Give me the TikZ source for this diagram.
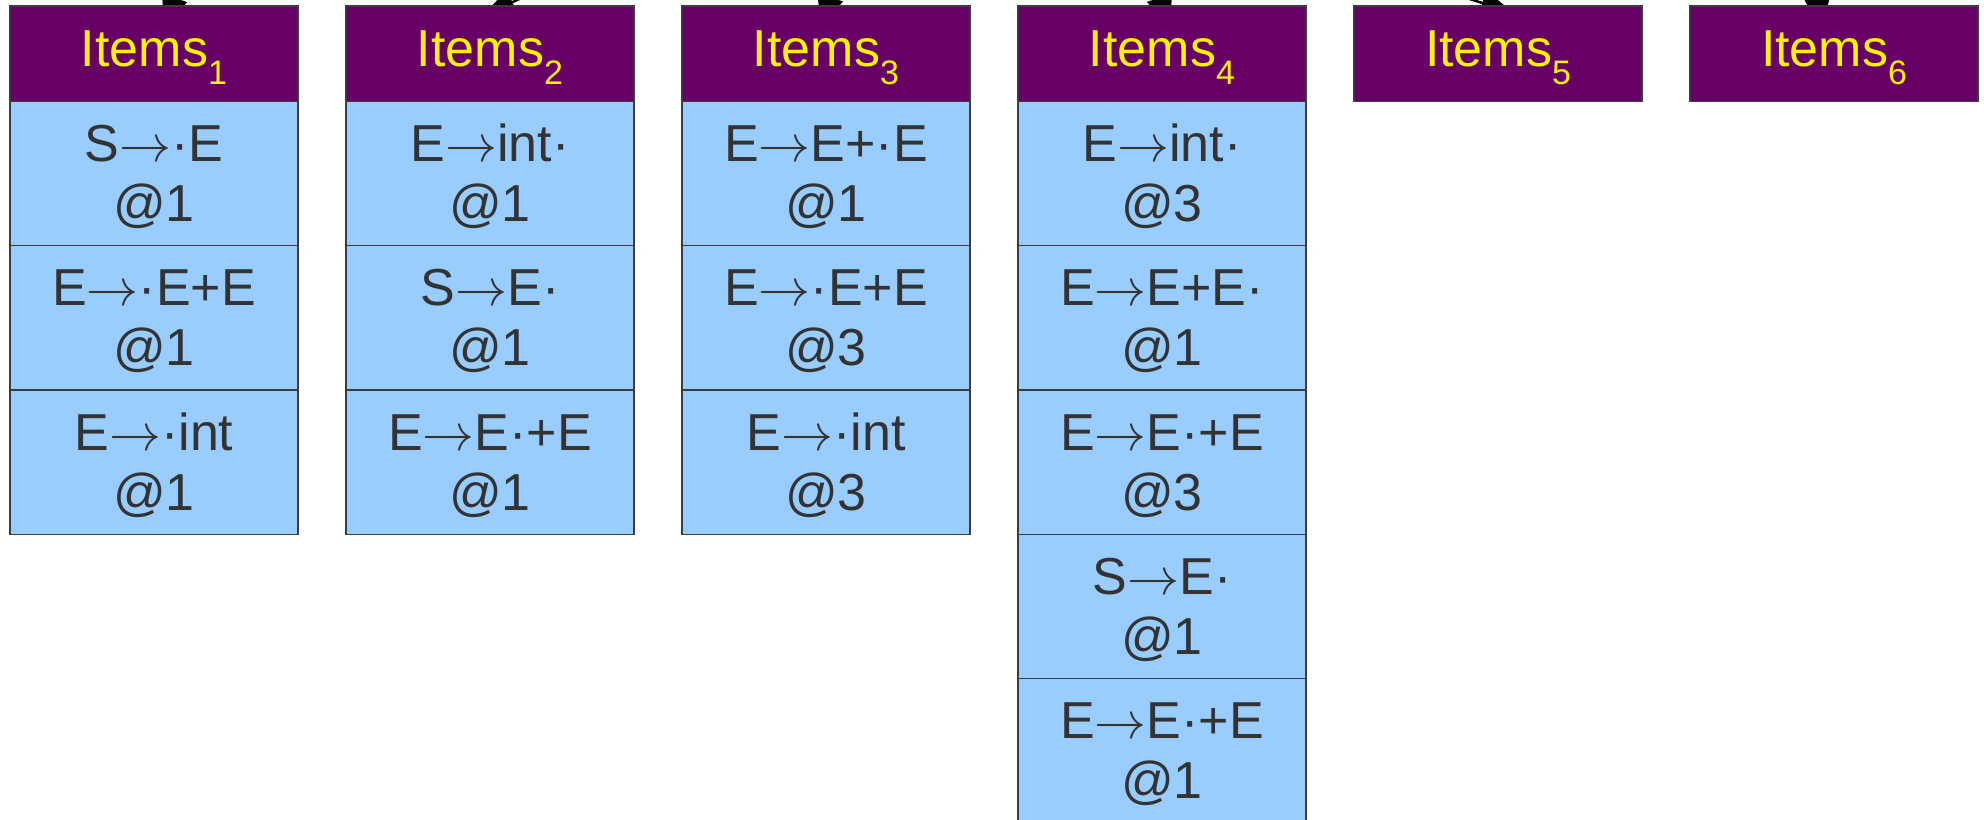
\RequirePackage{fix-cm}
\documentclass[tikz,border=0pt]{standalone}
\usepackage{fontspec}
\setmainfont{Liberation Sans}
\usetikzlibrary{arrows.meta}
\definecolor{hdr}{HTML}{660066}
\definecolor{cellc}{HTML}{99CCFF}
\definecolor{txtc}{HTML}{333333}
\definecolor{edgec}{HTML}{3C3C3C}
\newcommand{\itm}[1]{Items\smash{\raisebox{-9pt}{\fontsize{17}{17}\selectfont #1}}}
\newcommand{\ra}{$\rightarrow$}
\begin{document}
\begin{tikzpicture}[x=0.5pt,y=-0.5pt,
  hdrbox/.style={draw=edgec, line width=0.6pt, fill=hdr, text=yellow,
    minimum width=144pt, minimum height=47.75pt, inner sep=0pt,
    text height=18.9pt, text depth=5.9pt,
    font=\fontsize{26}{30}\selectfont},
  cellbox/.style={draw=edgec, line width=0.6pt, fill=cellc, text=txtc,
    minimum width=144pt, minimum height=72.1pt, inner sep=0pt, align=center,
    text height=48pt, text depth=0pt,
    font=\fontsize{26}{30}\selectfont},
  feed/.style={line width=1.2pt, black, shorten >=-12pt,
    -{Triangle[length=16pt,width=13pt]}}]
\useasboundingbox (0,0) rectangle (1984,819);
\clip (0,0) rectangle (1984,819);
% header nodes (placed first so arrows can refer to them)
\foreach \i/\x in {1/154,2/490,3/826,4/1162,5/1498,6/1834}{
  \node[hdrbox] (h\i) at (\x,53.75) {\itm{\i}};
}
% free start points of the incoming arrows (outside the picture)
\coordinate (s1) at (260,-250);
\coordinate (s2) at (720,-90);
\coordinate (s3) at (900,-250);
\coordinate (s4) at (1080,-250);
\coordinate (s5) at (1250,-70);
\coordinate (s6) at (1790,-250);
\draw[feed] (s1) -- ([xshift=9pt]h1.north);
\draw[feed] (s2) -- ([xshift=7.5pt]h2.north);
\draw[feed] (s3) -- ([xshift=1pt]h3.north);
\draw[feed] (s4) -- (h4.north);
\draw[feed] (s5) -- ([xshift=-4pt]h5.north);
\draw[feed] (s6) -- ([xshift=-8pt]h6.north);
% redraw headers on top of the arrows
\foreach \i/\x in {1/154,2/490,3/826,4/1162,5/1498,6/1834}{
  \node[hdrbox] (hh\i) at (\x,53.75) {\itm{\i}};
}
% column 1
\node[cellbox] (a1) at (154,173.6) {S\ra·E\\@1};
\node[cellbox] (a2) at (154,317.8) {E\ra·E+E\\@1};
\node[cellbox] (a3) at (154,462.0) {E\ra·int\\@1};
% column 2
\node[cellbox] (b1) at (490,173.6) {E\ra int·\\@1};
\node[cellbox] (b2) at (490,317.8) {S\ra E·\\@1};
\node[cellbox] (b3) at (490,462.0) {E\ra E·+E\\@1};
% column 3
\node[cellbox] (c1) at (826,173.6) {E\ra E+·E\\@1};
\node[cellbox] (c2) at (826,317.8) {E\ra·E+E\\@3};
\node[cellbox] (c3) at (826,462.0) {E\ra·int\\@3};
% column 4
\node[cellbox] (d1) at (1162,173.6) {E\ra int·\\@3};
\node[cellbox] (d2) at (1162,317.8) {E\ra E+E·\\@1};
\node[cellbox] (d3) at (1162,462.0) {E\ra E·+E\\@3};
\node[cellbox] (d4) at (1162,606.2) {S\ra E·\\@1};
\node[cellbox] (d5) at (1162,750.4) {E\ra E·+E\\@1};
\end{tikzpicture}
\end{document}
